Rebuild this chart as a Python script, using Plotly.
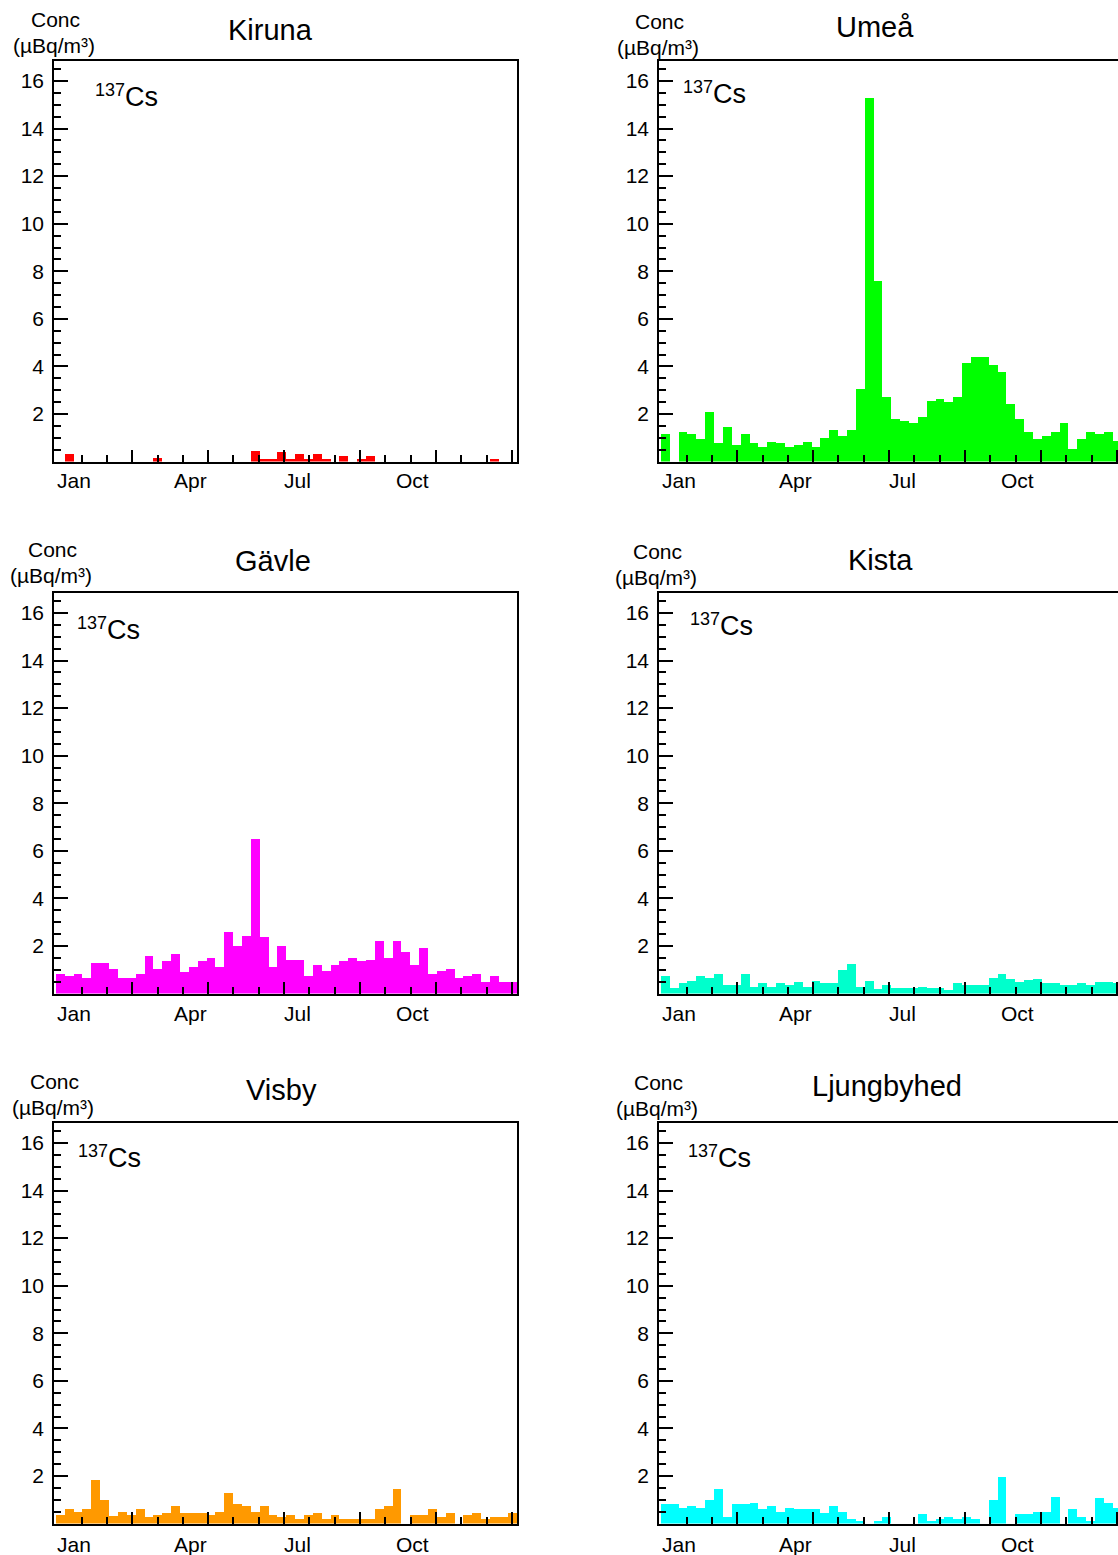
import plotly.graph_objects as go

# ---------------- data ----------------
stations = ["Kiruna", "Umeå", "Gävle", "Kista", "Visby", "Ljungbyhed"]
colors = ["#ff0000", "#00ff00", "#ff00ff", "#00ffcc", "#ff9900", "#00ffff"]

# weekly 137Cs concentrations (µBq/m3), 52 weeks
kiruna = [0, 0.31, 0, 0, 0, 0, 0, 0, 0, 0,
          0, 0.17, 0, 0, 0, 0, 0, 0, 0, 0,
          0, 0, 0.46, 0.13, 0.13, 0.39, 0.13, 0.32, 0.13, 0.31,
          0.13, 0, 0.22, 0, 0.13, 0.22, 0, 0, 0, 0,
          0, 0, 0, 0, 0, 0, 0, 0, 0, 0.13,
          0, 0]
umea = [1.16, 0, 1.26, 1.16, 0.94, 2.1, 0.77, 1.47, 0.70, 1.16,
        0.77, 0.63, 0.84, 0.77, 0.63, 0.70, 0.84, 0.60, 1.0, 1.33,
        1.09, 1.33, 3.04, 15.3, 7.6, 2.73, 1.79, 1.72, 1.64, 1.86,
        2.56, 2.65, 2.49, 2.73, 4.16, 4.38, 4.38, 4.06, 3.75, 2.41,
        1.79, 1.25, 0.94, 1.09, 1.25, 1.64, 0.55, 0.94, 1.25, 1.16,
        1.25, 0.85]
gavle = [0.83, 0.75, 0.82, 0.67, 1.28, 1.28, 1.04, 0.67, 0.67, 0.82,
         1.60, 1.04, 1.36, 1.67, 0.89, 1.13, 1.36, 1.51, 1.13, 2.60,
         1.99, 2.44, 6.49, 2.36, 1.13, 1.99, 1.43, 1.43, 0.74, 1.21,
         0.97, 1.21, 1.36, 1.51, 1.36, 1.43, 2.21, 1.51, 2.21, 1.75,
         1.21, 1.90, 0.82, 0.97, 1.04, 0.67, 0.74, 0.82, 0.50, 0.74,
         0.50, 0.50]
kista = [0.76, 0.22, 0.43, 0.53, 0.76, 0.67, 0.83, 0.36, 0.36, 0.83,
         0.29, 0.43, 0.29, 0.43, 0.36, 0.50, 0.29, 0.53, 0.46, 0.46,
         0.99, 1.23, 0.29, 0.53, 0.20, 0.36, 0.22, 0.22, 0.22, 0.29,
         0.22, 0.22, 0.15, 0.43, 0.36, 0.36, 0.36, 0.67, 0.83, 0.60,
         0.50, 0.57, 0.60, 0.43, 0.43, 0.36, 0.36, 0.43, 0.36, 0.50,
         0.50, 0.46]
visby = [0.36, 0.60, 0.50, 0.60, 1.83, 0.98, 0.34, 0.50, 0.36, 0.60,
         0.27, 0.36, 0.43, 0.76, 0.43, 0.43, 0.43, 0.36, 0.50, 1.29,
         0.81, 0.76, 0.50, 0.76, 0.36, 0.27, 0.36, 0.20, 0.36, 0.43,
         0.20, 0.36, 0.20, 0.20, 0.20, 0.20, 0.60, 0.76, 1.46, 0,
         0.36, 0.36, 0.60, 0.27, 0.43, 0, 0.36, 0.43, 0.20, 0.27,
         0.27, 0.43]
ljungbyhed = [0.81, 0.81, 0.67, 0.74, 0.67, 0.98, 1.46, 0.27, 0.81, 0.81,
              0.88, 0.60, 0.74, 0.50, 0.67, 0.60, 0.60, 0.60, 0.43, 0.74,
              0.50, 0.20, 0.11, 0, 0.11, 0.27, 0, 0, 0, 0.41,
              0.11, 0.20, 0.27, 0.20, 0.27, 0.20, 0, 0.98, 1.97, 0,
              0.41, 0.41, 0.50, 0.50, 1.13, 0, 0.60, 0.27, 0.11, 1.06,
              0.88, 0.67]
series = [kiruna, umea, gavle, kista, visby, ljungbyhed]

# sampling weeks: start day (days since 1 Jan) of each weekly filter
first_week_start = 1.5
week_length = 7
week_centers = [first_week_start + week_length * (k + 0.5) for k in range(52)]

month_labels = ["Jan", "Apr", "Jul", "Oct"]
month_label_days = [16, 108, 192, 283]
major_tick_days = [61.8, 121.8, 181.8, 241.8, 301.8, 361.8]
minor_tick_days = [21.8, 41.8, 81.8, 101.8, 141.8, 161.8, 201.8, 221.8,
                   261.8, 281.8, 321.8, 341.8]
y_tick_vals = [2, 4, 6, 8, 10, 12, 14, 16]

# ---------------- layout geometry (pixels) ----------------
W, H = 1118, 1555
FONT = "Liberation Sans, Arial, sans-serif"
PX_PER_DAY = 1.2657
cols = [(54, 517), (659, 1118)]
rows = [(61, 461.6), (593, 993.6), (1123, 1523.6)]
YMAX = 16.84

title_pos = [(270, 30), (875, 27), (273, 561), (880, 560), (281, 1090), (887, 1086)]
conc_pos = [(55, 19), (659, 21), (52, 549), (657, 552), (54, 1081), (658, 1082)]
cs_pos = [(93, 96), (681, 93), (75, 629), (688, 625), (76, 1157), (686, 1157)]
month_y = [481, 481, 1013, 1013, 1544, 1544]


def px(x):
    return x / W


def py(y):
    return 1 - y / H


fig = go.Figure()
annotations = []
layout_axes = {}


def add_text(text, x, y, size, xanchor="center", xref="paper"):
    annotations.append(dict(text=text, x=x, y=py(y), xref=xref, yref="paper",
                            xanchor=xanchor, yanchor="middle", showarrow=False,
                            font=dict(family=FONT, size=size, color="black")))


for i, (name, col, vals) in enumerate(zip(stations, colors, series)):
    r, c = divmod(i, 2)
    n = i + 1
    xa = "x" if n == 1 else f"x{n}"
    ya = "y" if n == 1 else f"y{n}"
    x0, x1 = cols[c]
    y0, y1 = rows[r]
    xmax = (x1 - x0) / PX_PER_DAY

    fig.add_trace(go.Bar(
        x=week_centers, y=vals, width=week_length,
        marker=dict(color=col, line=dict(width=0)),
        xaxis=xa, yaxis=ya, showlegend=False, hoverinfo="x+y",
    ))

    layout_axes["xaxis" if n == 1 else f"xaxis{n}"] = dict(
        domain=[px(x0), px(x1)], range=[0, xmax], anchor=ya,
        showgrid=False, zeroline=False,
        showline=True, linecolor="black", linewidth=1.5, mirror=True,
        ticks="inside", tickvals=major_tick_days,
        ticklen=12, tickwidth=1.5, tickcolor="black",
        minor=dict(tickvals=minor_tick_days, ticks="inside", ticklen=7,
                   tickwidth=1.5, tickcolor="black"),
        showticklabels=False, fixedrange=True,
    )
    layout_axes["yaxis" if n == 1 else f"yaxis{n}"] = dict(
        domain=[py(y1), py(y0)], range=[0, YMAX], anchor=xa,
        showgrid=False, zeroline=False,
        showline=True, linecolor="black", linewidth=1.5,
        mirror=(c == 0),
        ticks="inside", tickvals=y_tick_vals,
        ticktext=[str(v) for v in y_tick_vals],
        ticklen=14, tickwidth=1.5, tickcolor="black",
        minor=dict(dtick=0.5, tick0=0, ticks="inside", ticklen=7,
                   tickwidth=1.5, tickcolor="black"),
        tickfont=dict(family=FONT, size=21, color="black"),
        ticklabelstandoff=4, fixedrange=True,
    )

    # station title
    tx, ty = title_pos[i]
    add_text(name, px(tx), ty, 29)
    # y-axis title
    cx, cy = conc_pos[i]
    add_text("Conc", px(cx), cy, 21)
    add_text("(µBq/m³)", px(cx - 1), cy + 26, 21)
    # nuclide label: mass number as small raised text, then element symbol
    sx, sy = cs_pos[i]
    add_text("137", px(sx), sy - 6, 18, xanchor="left")
    add_text("Cs", px(sx + 30), sy + 1, 27, xanchor="left")
    # month labels
    for lab, d in zip(month_labels, month_label_days):
        add_text(lab, d, month_y[i], 21, xref=xa)

fig.update_layout(
    width=W, height=H,
    margin=dict(l=0, r=0, t=0, b=0),
    paper_bgcolor="white", plot_bgcolor="white",
    annotations=annotations,
    bargap=0,
    **layout_axes,
)

fig.write_html("out.html", config={"displayModeBar": False},
               post_script="document.body.style.margin='0';document.body.style.overflow='hidden';")
